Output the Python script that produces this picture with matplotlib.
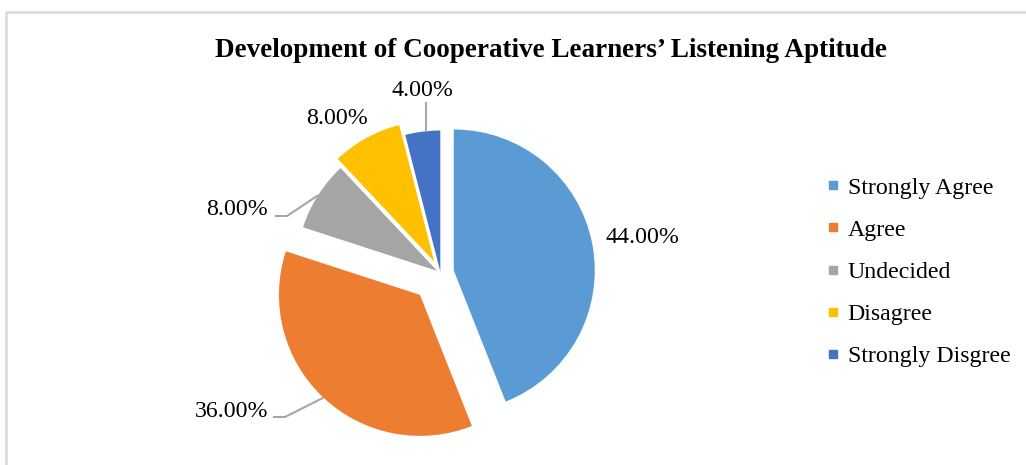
import matplotlib
matplotlib.use("Agg")
import matplotlib.pyplot as plt
from matplotlib.lines import Line2D
from matplotlib.patches import Rectangle
import numpy as np

categories = ["Strongly Agree", "Agree", "Undecided", "Disagree", "Strongly Disgree"]
shares = [44.0, 36.0, 8.0, 8.0, 4.0]
colors = ["#5B9BD5", "#ED7D31", "#A5A5A5", "#FFC000", "#4472C4"]
title = "Development of Cooperative Learners\u2019 Listening Aptitude"

W, H = 1026, 465
plt.rcParams["font.family"] = ["Liberation Serif", "DejaVu Serif"]

fig = plt.figure(figsize=(W / 100, H / 100), dpi=100)
ax = fig.add_axes([0, 0, 1, 1])

# pie geometry in pixels (y up)
cx, cy, R = 440.5, H - 273, 141
explode = [13.5, 30, 4, 13, 1.5]

wedges, _ = ax.pie(
    shares,
    colors=colors,
    startangle=90,
    counterclock=False,
    radius=R,
    center=(cx, cy),
    explode=explode,
    frame=True,
    wedgeprops=dict(linewidth=0),
)
ax.set_xlim(0, W)
ax.set_ylim(0, H)
ax.axis("off")

# label layout: text x, baseline y (pixels from top), ha, leader type
label_pos = [
    (605, 243, "left", None),
    (268, 417, "right", ("elbow", 273, 285, 417)),
    (268, 215, "right", ("elbow", 275, 287, 216)),
    (306, 124, "left", None),
    (392, 96, "left", ("vert", 425.7, 102)),
]

for w, val, pos in zip(wedges, shares, label_pos):
    tx, ty, ha, leader = pos
    ax.text(tx, H - ty, f"{val:.2f}%", ha=ha, va="baseline", fontsize=17.2,
            color="#000000")
    if leader is None:
        continue
    mid = np.deg2rad((w.theta1 + w.theta2) / 2)
    px = w.center[0] + w.r * np.cos(mid)
    py = w.center[1] + w.r * np.sin(mid)
    if leader[0] == "elbow":
        _, x0, x1, ly = leader
        ax.plot([x0, x1, px], [H - ly, H - ly, py], color="#A6A6A6", lw=1.5,
                solid_capstyle="butt")
    else:
        _, lx, ly = leader
        ax.plot([lx, lx], [H - ly, py], color="#A6A6A6", lw=1.5,
                solid_capstyle="butt")

ax.text(551, H - 57, title, ha="center", va="baseline", fontsize=19.5,
        fontweight="bold")

handles = [Line2D([], [], marker="s", ls="", color=c, markersize=5.2) for c in colors]
ax.legend(handles, categories, loc="center left",
          bbox_to_anchor=(826 / W, (H - 272) / H), bbox_transform=fig.transFigure,
          frameon=False, fontsize=17.2, handlelength=0.6, handletextpad=0.3,
          labelspacing=0.85, borderpad=0, borderaxespad=0)

# outer chart border
fig.patches.append(Rectangle((6 / W, -0.1), 1.2, (H - 12) / H + 0.1,
                             transform=fig.transFigure, fill=False,
                             edgecolor="#D9D9D9", lw=1.8))

fig.savefig("out.png", dpi=100)
